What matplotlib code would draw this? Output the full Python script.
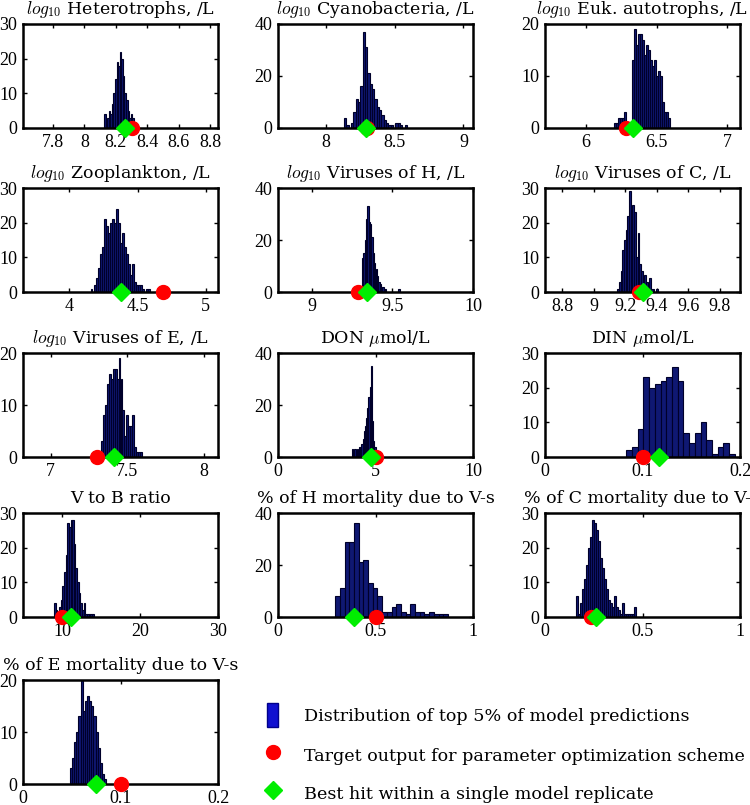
import matplotlib
matplotlib.use("Agg")
import matplotlib.pyplot as plt
import numpy as np
from matplotlib.lines import Line2D
from matplotlib.patches import Patch
from matplotlib.ticker import FuncFormatter

plt.rcParams['font.family'] = ['Liberation Serif', 'DejaVu Serif']
plt.rcParams['mathtext.fontset'] = 'cm'

# ---------------- data ----------------
titles = [
    r'$log_{10}$ Heterotrophs, /L', r'$log_{10}$ Cyanobacteria, /L', r'$log_{10}$ Euk. autotrophs, /L',
    r'$log_{10}$ Zooplankton, /L', r'$log_{10}$ Viruses of H, /L', r'$log_{10}$ Viruses of C, /L',
    r'$log_{10}$ Viruses of E, /L', r'DON $\mu$mol/L', r'DIN $\mu$mol/L',
    'V to B ratio', '% of H mortality due to V-s', '% of C mortality due to V-s',
    '% of E mortality due to V-s',
]

bin_start = [8.125, 8.13, 6.20, 4.155, 9.312, 9.15, 7.325, 3.80, 0.0834, 9.0, 0.293, 0.160, 0.048]
bin_width = [0.010, 0.017, 0.0142, 0.0146, 0.0083, 0.0107, 0.013, 0.06, 0.00586, 0.21, 0.0241, 0.0103, 0.0022]

counts_het = [4, 2, 3, 5, 4, 7, 10, 14, 19, 18, 22, 20, 15, 10, 8, 5, 3, 4, 3, 1]
counts_cyan = [4, 1, 0, 2, 6, 11, 10, 16, 37, 31, 21, 17, 15, 11, 8, 7, 5, 3, 2, 1, 1, 0, 2, 2, 1, 0, 1]
counts_euk = [1, 1, 2, 2, 2, 3, 1, 0, 0, 13, 19, 16, 18, 18, 17, 14, 16, 15, 13, 12, 13, 10, 11, 10, 5, 3, 3, 2]
counts_zoo = [1, 0, 2, 4, 7, 11, 13, 21, 19, 17, 20, 21, 20, 24, 20, 14, 17, 13, 11, 8, 5, 8, 3, 2, 2, 2, 1, 0, 1, 1]
counts_vh = [13, 15, 20, 28, 33, 27, 26, 21, 15, 11, 9, 6, 4, 3, 2, 2, 1, 1, 0, 0, 0, 0, 0, 0, 0, 0, 0, 1]
counts_vc = [1, 3, 6, 12, 15, 18, 22, 29, 20, 25, 23, 10, 17, 8, 6, 4, 5, 3, 2, 4, 1, 1, 0, 1]
counts_ve = [3, 8, 10, 14, 16, 15, 17, 17, 15, 19, 15, 9, 4, 8, 6, 6, 8, 2, 1, 1, 1]
counts_don = [3, 0, 3, 2, 3, 1, 4, 4, 5, 7, 10, 12, 15, 19, 23, 27, 35, 14, 6, 4, 2]
counts_din = [2, 3, 8, 23, 20, 21, 22, 23, 26, 22, 7, 4, 7, 10, 5, 1, 3, 4, 1]
counts_vb = [4, 2, 1, 3, 5, 9, 13, 18, 27, 26, 28, 28, 21, 14, 10, 7, 4, 2, 4, 1, 1, 1, 1, 1]
counts_hm = [8, 11, 29, 29, 36, 21, 22, 13, 11, 8, 2, 2, 4, 5, 2, 1, 5, 2, 2, 1, 2, 1, 1, 1]
counts_cm = [6, 1, 4, 8, 11, 15, 20, 23, 28, 27, 25, 22, 17, 14, 11, 8, 5, 4, 3, 6, 3, 2, 1, 4, 1, 1, 1, 1, 1, 3]
counts_em = [3, 5, 8, 10, 13, 20, 14, 16, 17, 16, 15, 13, 10, 7, 4, 2, 1]

all_counts = [counts_het, counts_cyan, counts_euk, counts_zoo, counts_vh, counts_vc,
              counts_ve, counts_don, counts_din, counts_vb, counts_hm, counts_cm, counts_em]

target_vals = [8.30, 8.30, 6.28, 4.69, 9.285, 9.29, 7.30, 5.05, 0.10, 10.0, 0.50, 0.235, 0.10]
best_vals = [8.26, 8.29, 6.33, 4.377, 9.342, 9.31, 7.41, 4.75, 0.117, 11.2, 0.39, 0.262, 0.075]

xlims = [(7.61, 8.85), (7.65, 9.07), (5.71, 7.09), (3.66, 5.09), (8.79, 10.0), (8.69, 9.93),
         (6.82, 8.09), (0, 10), (0, 0.2), (5, 30), (0, 1), (0, 1), (0, 0.2)]
xticks = [[7.8, 8, 8.2, 8.4, 8.6, 8.8], [8, 8.5, 9], [6, 6.5, 7], [4, 4.5, 5], [9, 9.5, 10],
          [8.8, 9, 9.2, 9.4, 9.6, 9.8], [7, 7.5, 8], [0, 5, 10], [0, 0.1, 0.2], [10, 20, 30],
          [0, 0.5, 1], [0, 0.5, 1], [0, 0.1, 0.2]]
ymax = [30, 40, 20, 30, 40, 30, 20, 40, 30, 30, 40, 30, 20]

legend_labels = ['Distribution of top 5% of model predictions',
                 'Target output for parameter optimization scheme',
                 'Best hit within a single model replicate']

# ---------------- layout ----------------
W, H = 750, 805
fig = plt.figure(figsize=(W / 100, H / 100), dpi=100)
col_left = [23, 278, 545]
row_top = [24, 188, 353, 513, 680]
aw, ah = 195, 104

bar_face = '#0f1872'
bar_edge = '#00002a'
title_font = ['DejaVu Serif']

fmt = FuncFormatter(lambda v, p: '%g' % v)

for i in range(13):
    r, c = divmod(i, 3)
    left = col_left[c] / W
    bottom = 1 - (row_top[r] + ah) / H
    ax = fig.add_axes([left, bottom, aw / W, ah / H])
    cnt = np.array(all_counts[i], dtype=float)
    edges = bin_start[i] + bin_width[i] * np.arange(len(cnt))
    ax.bar(edges, cnt, width=bin_width[i], align='edge', color=bar_face,
           edgecolor=bar_edge, linewidth=0.8, zorder=2)
    ax.plot([target_vals[i]], [0], 'o', color='#ff0000', markersize=10,
            clip_on=False, zorder=5)
    ax.plot([best_vals[i]], [0], 'D', color='#00ee00', markersize=9,
            clip_on=False, zorder=6)
    ax.set_xlim(*xlims[i])
    ax.set_ylim(0, ymax[i])
    ax.set_xticks(xticks[i])
    step = 20 if ymax[i] == 40 else 10
    ax.set_yticks(np.arange(0, ymax[i] + 1, step))
    ax.xaxis.set_major_formatter(fmt)
    ax.tick_params(direction='in', top=True, right=True, length=3, width=1,
                   labelsize=13, pad=4)
    for s in ax.spines.values():
        s.set_linewidth(1.8)
    ax.set_title(titles[i], fontsize=12.5, pad=7, family=title_font)

handles = [Patch(facecolor='#1010d0', edgecolor='#00008a'),
           Line2D([], [], marker='o', color='#ff0000', linestyle='none', markersize=10),
           Line2D([], [], marker='D', color='#00ee00', linestyle='none', markersize=9)]
legend_rows_y = [715, 755, 793]
for h, lab, yy in zip(handles, legend_labels, legend_rows_y):
    fig.legend([h], [lab], loc='center left',
               bbox_to_anchor=(255 / W, 1 - yy / H), frameon=False,
               prop={'family': 'DejaVu Serif', 'size': 12.6},
               handlelength=0.6, handleheight=1.7, handletextpad=1.5,
               borderpad=0.2)

fig.savefig('out.png', dpi=100)
